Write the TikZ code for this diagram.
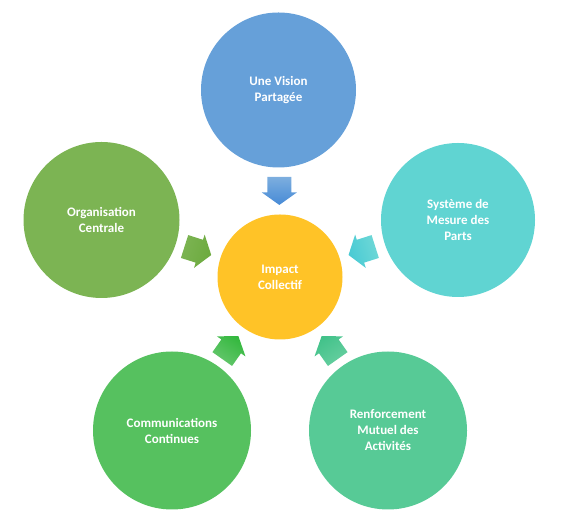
\documentclass[tikz,border=0pt]{standalone}
\usepackage{fontspec}
\setmainfont{Carlito}
\usetikzlibrary{calc}
\definecolor{visblue}{RGB}{102,160,217}
\definecolor{orggreen}{RGB}{124,180,83}
\definecolor{systeal}{RGB}{96,212,210}
\definecolor{comgreen}{RGB}{86,193,95}
\definecolor{rengreen}{RGB}{87,202,150}
\definecolor{impyellow}{RGB}{255,195,39}
\definecolor{vistip}{RGB}{70,138,214}
\definecolor{orgtip}{RGB}{108,170,62}
\definecolor{systip}{RGB}{72,202,212}
\definecolor{comtip}{RGB}{52,184,62}
\definecolor{rentip}{RGB}{66,194,138}

\tikzset{
    bubble/.style={
        circle,
        inner sep=0pt,
        align=center,
        text=white,
        font=\bfseries\fontsize{13}{16}\selectfont
    }
}

\begin{document}
\begin{tikzpicture}[x=1pt,y=1pt]
    \useasboundingbox (0,0) rectangle (567,529);
    % centre
    \node[bubble,fill=impyellow,minimum size=125pt] (imp) at (280,252) {Impact\\Collectif};
    % outer circles
    \node[bubble,fill=visblue,minimum size=155pt] (vis) at (278.5,439) {Une Vision\\Partagée};
    \node[bubble,fill=orggreen,minimum size=156pt] (org) at (101.5,309) {Organisation\\Centrale};
    \node[bubble,fill=systeal,minimum size=154pt] (sys) at (458,309) {Système de\\Mesure des\\Parts};
    \node[bubble,fill=comgreen,minimum size=158pt] (com) at (172,98.5) {Communications\\Continues};
    \node[bubble,fill=rengreen,minimum size=158pt] (ren) at (388,98.5) {Renforcement\\Mutuel des\\Activités};
    % block arrows towards the centre
    \foreach \src/\ang/\cola/\colb in {
        vis/-90/visblue!85!white/vistip,
        org/-17.7/orggreen/orgtip,
        sys/-162.3/systeal!90!white/systip,
        com/54.8/comgreen!90!white/comtip,
        ren/125.2/rengreen!90!white/rentip} {
        \begin{scope}[
            shift={($(\src)!0.54!(imp)$)}
        ]
            \shade[bottom color=\cola,top color=\colb,shading angle=\ang-90]
                ([rotate=\ang]-14,-12) -- ([rotate=\ang]1.5,-12)
                -- ([rotate=\ang]1.5,-17.5) -- ([rotate=\ang]14,0)
                -- ([rotate=\ang]1.5,17.5) -- ([rotate=\ang]1.5,12)
                -- ([rotate=\ang]-14,12) -- cycle;
        \end{scope}
    }
\end{tikzpicture}
\end{document}
